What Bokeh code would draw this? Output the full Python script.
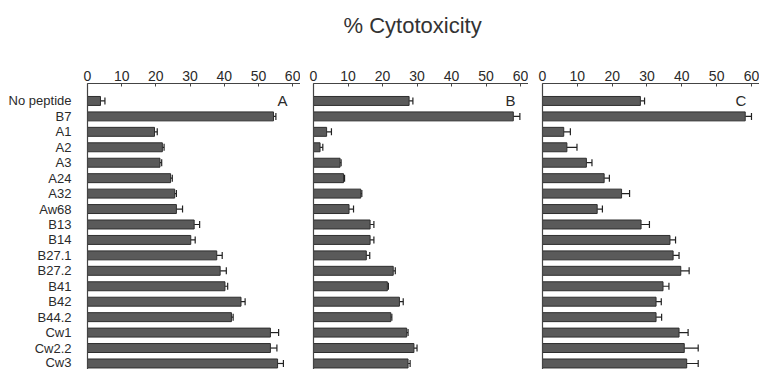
from bokeh.plotting import figure
from bokeh.models import Range1d, FixedTicker, ColumnDataSource, Whisker, TeeHead, Label
from bokeh.layouts import row, column
from bokeh.embed import file_html
from bokeh.resources import INLINE

categories = ["No peptide", "B7", "A1", "A2", "A3", "A24", "A32", "Aw68", "B13", "B14",
              "B27.1", "B27.2", "B41", "B42", "B44.2", "Cw1", "Cw2.2", "Cw3"]

a_values = [3.8, 54.4, 19.6, 21.9, 21.2, 24.3, 25.5, 26.0, 31.2, 30.2, 37.8, 38.8, 40.2, 44.9, 42.1, 53.5, 53.5, 55.6]
a_errors = [1.3, 0.7, 0.8, 0.5, 0.5, 0.5, 0.5, 1.8, 1.6, 1.3, 1.6, 1.8, 0.8, 1.2, 0.5, 2.4, 1.9, 1.7]

b_values = [27.7, 57.9, 3.8, 1.9, 7.7, 8.7, 13.7, 10.3, 16.4, 16.4, 15.3, 23.1, 21.4, 24.9, 22.4, 27.0, 29.1, 27.4]
b_errors = [1.1, 1.9, 1.4, 0.8, 0.3, 0.3, 0.3, 1.3, 1.1, 1.1, 1.0, 0.6, 0.3, 1.1, 0.3, 0.4, 0.9, 0.6]

c_values = [28.1, 58.2, 6.1, 7.0, 12.6, 17.7, 22.7, 15.7, 28.3, 36.6, 37.5, 39.7, 34.6, 32.6, 32.6, 39.2, 40.7, 41.4]
c_errors = [1.2, 1.8, 1.9, 2.9, 1.6, 1.5, 2.3, 1.5, 2.4, 1.6, 1.7, 2.4, 1.7, 1.5, 1.6, 2.6, 4.0, 3.3]

x_ticks = [0, 10, 20, 30, 40, 50, 60]
panel_letters = ["A", "B", "C"]
title_text = "% Cytotoxicity"

FONT = "Liberation Sans"
TEXT = "#2a2a2a"
BAR_FILL = "#5a5a5a"
BAR_LINE = "#2e2e2e"
TITLE_H = 60
HEIGHT = 369 - TITLE_H
TOP = 83 - TITLE_H
X_END = 62.3


def panel(vals, errs, letter, width, left, show_labels):
    ys = list(range(len(categories)))
    src = ColumnDataSource(dict(
        y=ys, v=vals, lo=vals, hi=[a + b for a, b in zip(vals, errs)]))
    p = figure(width=width, height=HEIGHT,
               x_range=Range1d(0, X_END),
               y_range=Range1d(len(categories) - 0.61, -1.13),
               x_axis_location="above",
               output_backend="svg", toolbar_location=None,
               min_border_left=left, min_border_right=0,
               min_border_top=TOP, min_border_bottom=0)
    p.outline_line_color = None
    p.grid.grid_line_color = None
    p.background_fill_color = "white"

    p.hbar(y="y", left=0, right="v", height=0.58, source=src,
           fill_color=BAR_FILL, line_color=BAR_LINE, line_width=1)
    w = Whisker(source=src, base="y", lower="lo", upper="hi", dimension="width",
                lower_head=None,
                upper_head=TeeHead(size=7, line_color="#222222", line_width=1.2),
                line_color="#222222", line_width=1.2)
    p.add_layout(w)

    xa = p.xaxis[0]
    xa.ticker = FixedTicker(ticks=x_ticks)
    xa.major_label_text_font = FONT
    xa.major_label_text_font_size = "14px"
    xa.major_label_text_color = TEXT
    xa.major_label_standoff = 3
    xa.major_tick_in = 3
    xa.major_tick_out = 0
    xa.major_tick_line_color = "#444444"
    xa.minor_tick_line_color = None
    xa.axis_line_color = "#444444"
    xa.axis_line_width = 1.2

    ya = p.yaxis[0]
    ya.axis_line_color = "#444444"
    ya.axis_line_width = 1.2
    ya.major_tick_line_color = None
    ya.minor_tick_line_color = None
    if show_labels:
        ya.ticker = FixedTicker(ticks=ys)
        ya.major_label_overrides = {i: c for i, c in zip(ys, categories)}
        ya.major_label_text_font = FONT
        ya.major_label_text_font_size = "13px"
        ya.major_label_text_color = TEXT
        ya.major_label_standoff = 10
    else:
        ya.major_label_text_font_size = "1px"
        ya.major_label_text_color = None
        ya.major_label_standoff = 0

    p.add_layout(Label(x=58.5, y=0, text=letter, text_align="right",
                       text_baseline="middle", text_font=FONT,
                       text_font_size="15px", text_color=TEXT))
    return p


pa = panel(a_values, a_errors, panel_letters[0], 300, 87, True)
pb = panel(b_values, b_errors, panel_letters[1], 228, 13, False)
pc = panel(c_values, c_errors, panel_letters[2], 231, 14, False)

pt = figure(width=759, height=TITLE_H, output_backend="svg", toolbar_location=None,
            x_axis_location=None, y_axis_location=None,
            min_border_left=0, min_border_right=0, min_border_top=0, min_border_bottom=0)
pt.outline_line_color = None
pt.grid.grid_line_color = None
pt.title.text = title_text
pt.title.align = "left"
pt.title.offset = 343
pt.title.vertical_align = "top"
pt.title.standoff = 24
pt.title.text_font = FONT
pt.title.text_font_size = "22px"
pt.title.text_font_style = "normal"
pt.title.text_color = "#333333"

layout = column(pt, row(pa, pb, pc, spacing=0), spacing=0)

open("out.html", "w").write(file_html(layout, INLINE))
